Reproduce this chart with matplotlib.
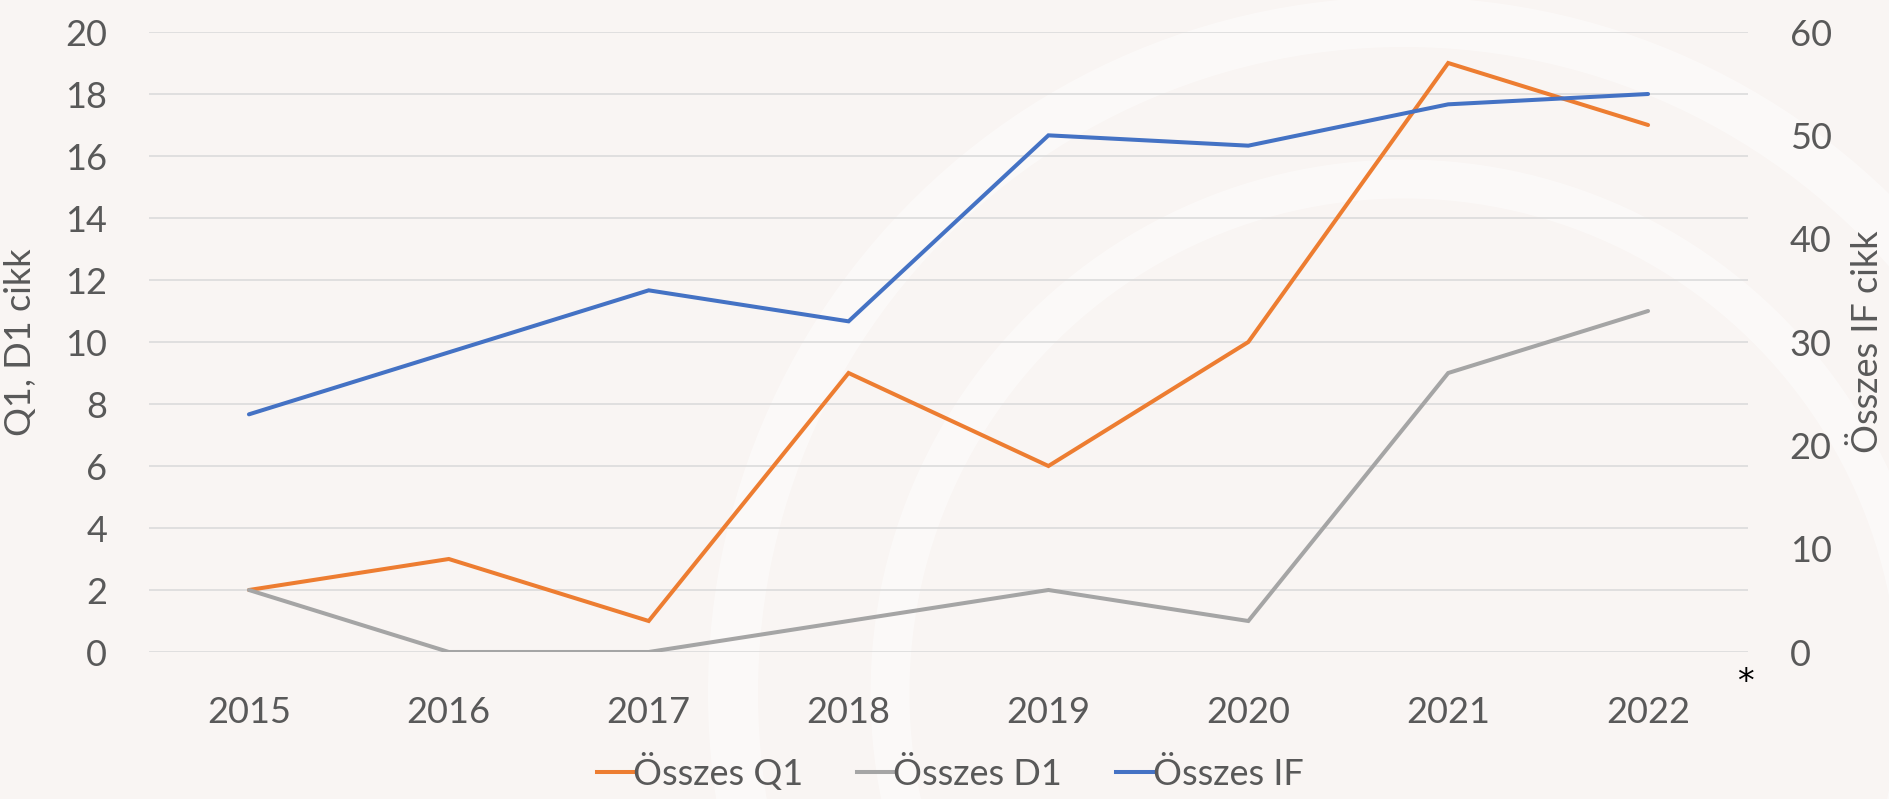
import matplotlib
matplotlib.use("Agg")
import matplotlib.pyplot as plt
from matplotlib.lines import Line2D
from matplotlib.patches import Arc

years = ["2015", "2016", "2017", "2018", "2019", "2020", "2021", "2022"]
q1 = [2, 3, 1, 9, 6, 10, 19, 17]
d1 = [2, 0, 0, 1, 2, 1, 9, 11]
if_total = [23, 29, 35, 32, 50, 49, 53, 54]

left_ticks = list(range(0, 21, 2))
right_ticks = list(range(0, 61, 10))

C_Q1 = "#ED7D31"
C_D1 = "#A5A5A5"
C_IF = "#4472C4"
TXT = "#595959"
BG = "#F9F5F3"
FONT = ["Lato", "DejaVu Sans"]

plt.rcParams["font.family"] = FONT

fig = plt.figure(figsize=(18.89, 7.99), dpi=100, facecolor=BG)

# faint watermark arcs in background
wm = fig.add_axes([0, 0, 1, 1], zorder=-5)
wm.set_xlim(0, 1889)
wm.set_ylim(799, 0)
wm.axis("off")
for (r, w) in [(671, 36), (514, 28)]:
    wm.add_patch(Arc((1404, 693), 2 * r, 2 * r, theta1=165, theta2=375,
                     color="white", lw=w, alpha=0.45))

ax = fig.add_axes([149 / 1889, 1 - 652 / 799, 1599 / 1889, 620 / 799])
ax.set_facecolor("none")
ax2 = ax.twinx()
ax2.set_facecolor("none")

x = list(range(len(years)))
lw = 2.9
ax.plot(x, q1, color=C_Q1, lw=lw, solid_capstyle="round", solid_joinstyle="miter", zorder=3)
ax.plot(x, d1, color=C_D1, lw=lw, solid_capstyle="round", solid_joinstyle="miter", zorder=3)
ax2.plot(x, if_total, color=C_IF, lw=lw, solid_capstyle="round", solid_joinstyle="miter", zorder=3)

ax.set_xlim(-0.5, len(years) - 0.5)
ax.set_ylim(0, 20)
ax2.set_ylim(0, 60)
ax.set_yticks(left_ticks)
ax2.set_yticks(right_ticks)
ax.set_xticks(x)
ax.set_xticklabels(years)

for a in (ax, ax2):
    for s in a.spines.values():
        s.set_visible(False)

ax.grid(axis="y", color="#D9D9D9", lw=1.1, zorder=0)
ax.set_axisbelow(True)

fs = 26
ax.tick_params(axis="y", length=0, pad=30, labelsize=fs, labelcolor=TXT)
ax.tick_params(axis="x", length=0, pad=32, labelsize=fs, labelcolor=TXT)
ax2.tick_params(axis="y", length=0, pad=30, labelsize=fs, labelcolor=TXT)

ax.set_ylabel("Q1, D1 cikk", fontsize=fs, color=TXT, labelpad=20)
ax2.set_ylabel("Összes IF cikk", fontsize=fs, color=TXT, labelpad=14, rotation=90)

fig.text(1745 / 1889, 1 - 682 / 799, "*", fontsize=24, color="black",
         ha="center", va="center", family=["DejaVu Sans"])

handles = [Line2D([], [], color=C_Q1, lw=lw),
           Line2D([], [], color=C_D1, lw=lw),
           Line2D([], [], color=C_IF, lw=lw)]
labels = ["Összes Q1", "Összes D1", "Összes IF"]
fig.legend(handles, labels, loc="center", bbox_to_anchor=(950 / 1889, 1 - 772 / 799),
           ncol=3, frameon=False, fontsize=fs, handlelength=1.0, handletextpad=0.0,
           columnspacing=1.5, labelcolor=TXT)

fig.savefig("out.png", dpi=100, facecolor=BG)
